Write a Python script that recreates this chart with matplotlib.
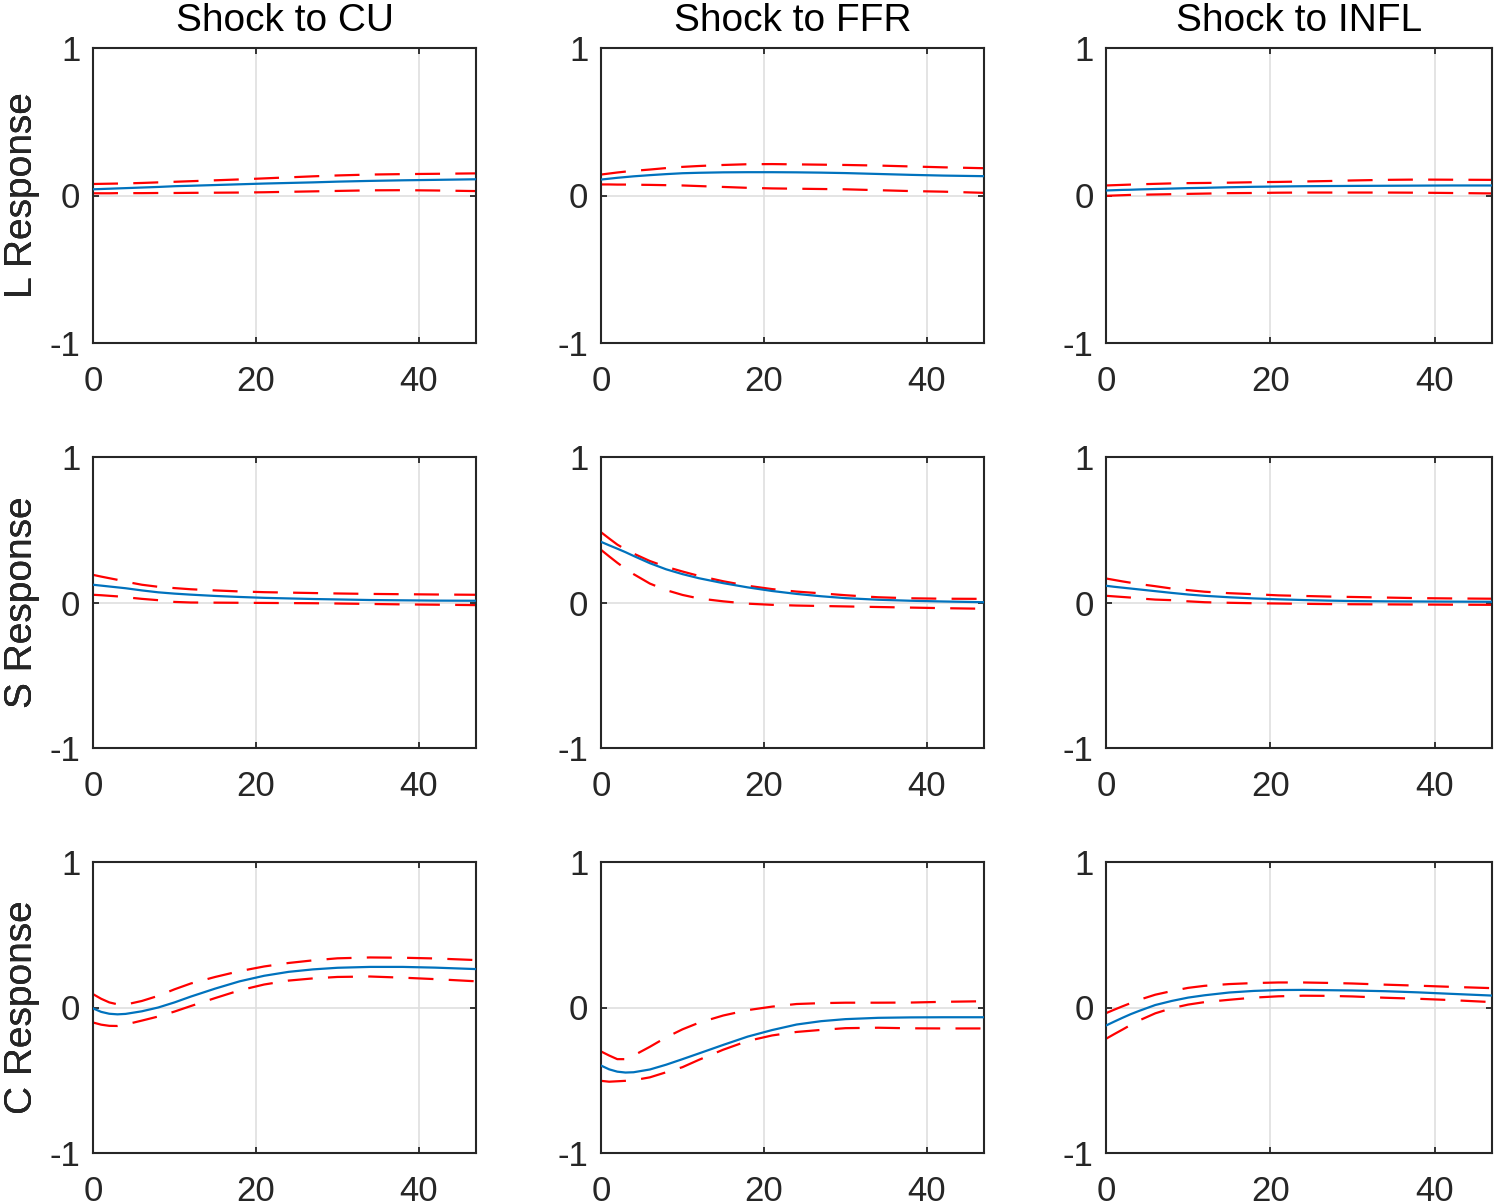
import matplotlib
matplotlib.use("Agg")
import matplotlib.pyplot as plt

plt.rcParams['font.family'] = ['Liberation Sans', 'DejaVu Sans']
plt.rcParams['lines.scale_dashes'] = False

horizons = [0, 1, 2, 3, 4, 6, 8, 10, 12, 15, 18, 21, 24, 27, 30, 34, 38, 42, 47]

shocks = ["CU", "FFR", "INFL"]
responses = ["L", "S", "C"]

# ---- L response ----
L_CU_mid = [0.042, 0.044, 0.046, 0.048, 0.05, 0.054, 0.058, 0.063, 0.066, 0.071, 0.076, 0.081, 0.085, 0.089, 0.094, 0.099, 0.103, 0.106, 0.11]
L_CU_up = [0.078, 0.079, 0.080, 0.081, 0.082, 0.085, 0.089, 0.093, 0.097, 0.103, 0.109, 0.116, 0.123, 0.13, 0.136, 0.142, 0.145, 0.147, 0.15]
L_CU_lo = [0.015, 0.015, 0.015, 0.016, 0.016, 0.016, 0.017, 0.017, 0.018, 0.019, 0.020, 0.022, 0.025, 0.028, 0.031, 0.035, 0.036, 0.034, 0.030]

L_FFR_mid = [0.108, 0.114, 0.12, 0.125, 0.13, 0.138, 0.145, 0.151, 0.154, 0.157, 0.158, 0.158, 0.157, 0.155, 0.152, 0.146, 0.14, 0.135, 0.131]
L_FFR_up = [0.142, 0.149, 0.156, 0.162, 0.167, 0.176, 0.186, 0.194, 0.2, 0.207, 0.212, 0.213, 0.211, 0.209, 0.207, 0.203, 0.197, 0.191, 0.185]
L_FFR_lo = [0.075, 0.075, 0.074, 0.074, 0.073, 0.072, 0.070, 0.068, 0.064, 0.058, 0.052, 0.048, 0.046, 0.044, 0.042, 0.036, 0.030, 0.026, 0.018]

L_INFL_mid = [0.034, 0.036, 0.038, 0.039, 0.041, 0.044, 0.047, 0.05, 0.052, 0.056, 0.059, 0.061, 0.063, 0.064, 0.065, 0.066, 0.067, 0.068, 0.068]
L_INFL_up = [0.068, 0.07, 0.072, 0.074, 0.076, 0.079, 0.082, 0.084, 0.085, 0.087, 0.09, 0.092, 0.095, 0.098, 0.102, 0.106, 0.108, 0.107, 0.106]
L_INFL_lo = [-0.002, 0.0, 0.002, 0.004, 0.005, 0.007, 0.009, 0.011, 0.013, 0.016, 0.017, 0.019, 0.020, 0.020, 0.020, 0.020, 0.019, 0.017, 0.014]

# ---- S response ----
S_CU_mid = [0.122, 0.116, 0.11, 0.104, 0.098, 0.083, 0.07, 0.061, 0.054, 0.045, 0.038, 0.032, 0.028, 0.024, 0.021, 0.017, 0.015, 0.013, 0.012]
S_CU_up = [0.19, 0.178, 0.167, 0.156, 0.143, 0.122, 0.108, 0.099, 0.091, 0.083, 0.076, 0.071, 0.068, 0.065, 0.062, 0.059, 0.057, 0.055, 0.053]
S_CU_lo = [0.053, 0.05, 0.046, 0.042, 0.036, 0.025, 0.016, 0.004, 0.0, -0.001, -0.002, -0.003, -0.004, -0.005, -0.007, -0.01, -0.013, -0.015, -0.018]

S_FFR_mid = [0.417, 0.393, 0.37, 0.346, 0.32, 0.27, 0.228, 0.195, 0.167, 0.133, 0.104, 0.079, 0.059, 0.043, 0.03, 0.019, 0.012, 0.007, 0.002]
S_FFR_up = [0.483, 0.44, 0.398, 0.365, 0.336, 0.285, 0.245, 0.213, 0.183, 0.146, 0.115, 0.092, 0.075, 0.063, 0.05, 0.036, 0.029, 0.026, 0.025]
S_FFR_lo = [0.362, 0.317, 0.273, 0.232, 0.195, 0.13, 0.085, 0.052, 0.028, 0.008, -0.008, -0.016, -0.021, -0.024, -0.027, -0.031, -0.035, -0.039, -0.043]

S_INFL_mid = [0.115, 0.108, 0.102, 0.096, 0.09, 0.078, 0.066, 0.055, 0.046, 0.036, 0.028, 0.022, 0.017, 0.013, 0.01, 0.008, 0.007, 0.006, 0.005]
S_INFL_up = [0.165, 0.155, 0.145, 0.136, 0.127, 0.112, 0.096, 0.085, 0.074, 0.064, 0.057, 0.049, 0.045, 0.041, 0.038, 0.034, 0.03, 0.028, 0.026]
S_INFL_lo = [0.046, 0.042, 0.038, 0.034, 0.028, 0.02, 0.016, 0.008, 0.002, -0.002, -0.005, -0.007, -0.009, -0.011, -0.012, -0.013, -0.014, -0.015, -0.016]

# ---- C response ----
C_CU_mid = [-0.006, -0.03, -0.043, -0.047, -0.044, -0.026, 0.0, 0.035, 0.075, 0.13, 0.18, 0.218, 0.245, 0.262, 0.273, 0.279, 0.279, 0.274, 0.264]
C_CU_up = [0.092, 0.06, 0.035, 0.022, 0.02, 0.045, 0.08, 0.125, 0.165, 0.21, 0.25, 0.282, 0.306, 0.324, 0.338, 0.344, 0.342, 0.337, 0.326]
C_CU_lo = [-0.103, -0.118, -0.126, -0.127, -0.117, -0.09, -0.062, -0.028, 0.01, 0.065, 0.118, 0.158, 0.185, 0.2, 0.21, 0.213, 0.205, 0.195, 0.18]

C_FFR_mid = [-0.399, -0.425, -0.441, -0.447, -0.445, -0.426, -0.393, -0.355, -0.316, -0.257, -0.2, -0.155, -0.117, -0.094, -0.08, -0.071, -0.068, -0.067, -0.067]
C_FFR_up = [-0.302, -0.33, -0.355, -0.355, -0.33, -0.27, -0.205, -0.15, -0.105, -0.055, -0.018, 0.006, 0.024, 0.03, 0.033, 0.033, 0.034, 0.039, 0.043]
C_FFR_lo = [-0.504, -0.51, -0.507, -0.504, -0.5, -0.48, -0.445, -0.41, -0.36, -0.29, -0.23, -0.192, -0.168, -0.154, -0.142, -0.139, -0.143, -0.144, -0.144]

C_INFL_mid = [-0.124, -0.097, -0.071, -0.046, -0.024, 0.017, 0.045, 0.068, 0.084, 0.103, 0.114, 0.12, 0.121, 0.119, 0.117, 0.112, 0.104, 0.094, 0.082]
C_INFL_up = [-0.039, -0.015, 0.008, 0.03, 0.052, 0.088, 0.113, 0.135, 0.149, 0.161, 0.168, 0.172, 0.172, 0.169, 0.165, 0.157, 0.15, 0.142, 0.133]
C_INFL_lo = [-0.215, -0.183, -0.152, -0.12, -0.09, -0.04, -0.005, 0.02, 0.037, 0.053, 0.068, 0.077, 0.081, 0.08, 0.076, 0.067, 0.06, 0.051, 0.037]

panels = {
    ("L", "CU"): (L_CU_mid, L_CU_up, L_CU_lo),
    ("L", "FFR"): (L_FFR_mid, L_FFR_up, L_FFR_lo),
    ("L", "INFL"): (L_INFL_mid, L_INFL_up, L_INFL_lo),
    ("S", "CU"): (S_CU_mid, S_CU_up, S_CU_lo),
    ("S", "FFR"): (S_FFR_mid, S_FFR_up, S_FFR_lo),
    ("S", "INFL"): (S_INFL_mid, S_INFL_up, S_INFL_lo),
    ("C", "CU"): (C_CU_mid, C_CU_up, C_CU_lo),
    ("C", "FFR"): (C_FFR_mid, C_FFR_up, C_FFR_lo),
    ("C", "INFL"): (C_INFL_mid, C_INFL_up, C_INFL_lo),
}

x_ticks = [0, 20, 40]
y_ticks = [-1, 0, 1]
y_ticklabels = ["-1", "0", "1"]

W, H = 1495, 1203
fig = plt.figure(figsize=(W / 100, H / 100), dpi=100)

col_px = [(93, 476), (601, 984), (1106, 1492)]
row_px = [(48, 343), (457, 748), (862, 1153)]

BLUE = "#0072BD"
RED = "#FF0000"
DARK = "#262626"

for i, resp in enumerate(responses):
    for j, sh in enumerate(shocks):
        x0, x1 = col_px[j]
        y0, y1 = row_px[i]
        ax = fig.add_axes([x0 / W, 1 - y1 / H, (x1 - x0) / W, (y1 - y0) / H])
        mid, up, lo = panels[(resp, sh)]
        ax.plot(horizons, mid, color=BLUE, lw=1.6, zorder=3)
        ax.plot(horizons, up, color=RED, lw=1.6, dashes=(18, 11), zorder=2)
        ax.plot(horizons, lo, color=RED, lw=1.6, dashes=(18, 11), zorder=2)
        ax.set_xlim(0, 47)
        ax.set_ylim(-1, 1)
        ax.set_xticks(x_ticks)
        ax.set_yticks(y_ticks)
        ax.set_yticklabels(y_ticklabels)
        ax.grid(True, color="#dfdfdf", lw=1.2, zorder=0)
        ax.set_axisbelow(True)
        for s in ax.spines.values():
            s.set_color(DARK)
            s.set_linewidth(1.5)
        ax.tick_params(axis="both", direction="in", length=4, width=1.3,
                       colors=DARK, labelcolor=DARK, labelsize=25,
                       top=True, right=True)
        ax.tick_params(axis="x", pad=16)
        ax.tick_params(axis="y", pad=9)
        if i == 0:
            ax.set_title("Shock to " + sh, fontsize=28, color="black", pad=12)
        fig.text(22 / W, 1 - ((y0 + y1) / 2) / H, resp + " Response",
                 rotation=90, ha="center", va="center", fontsize=28, color=DARK)

fig.savefig("out.png", dpi=100, facecolor="white")
